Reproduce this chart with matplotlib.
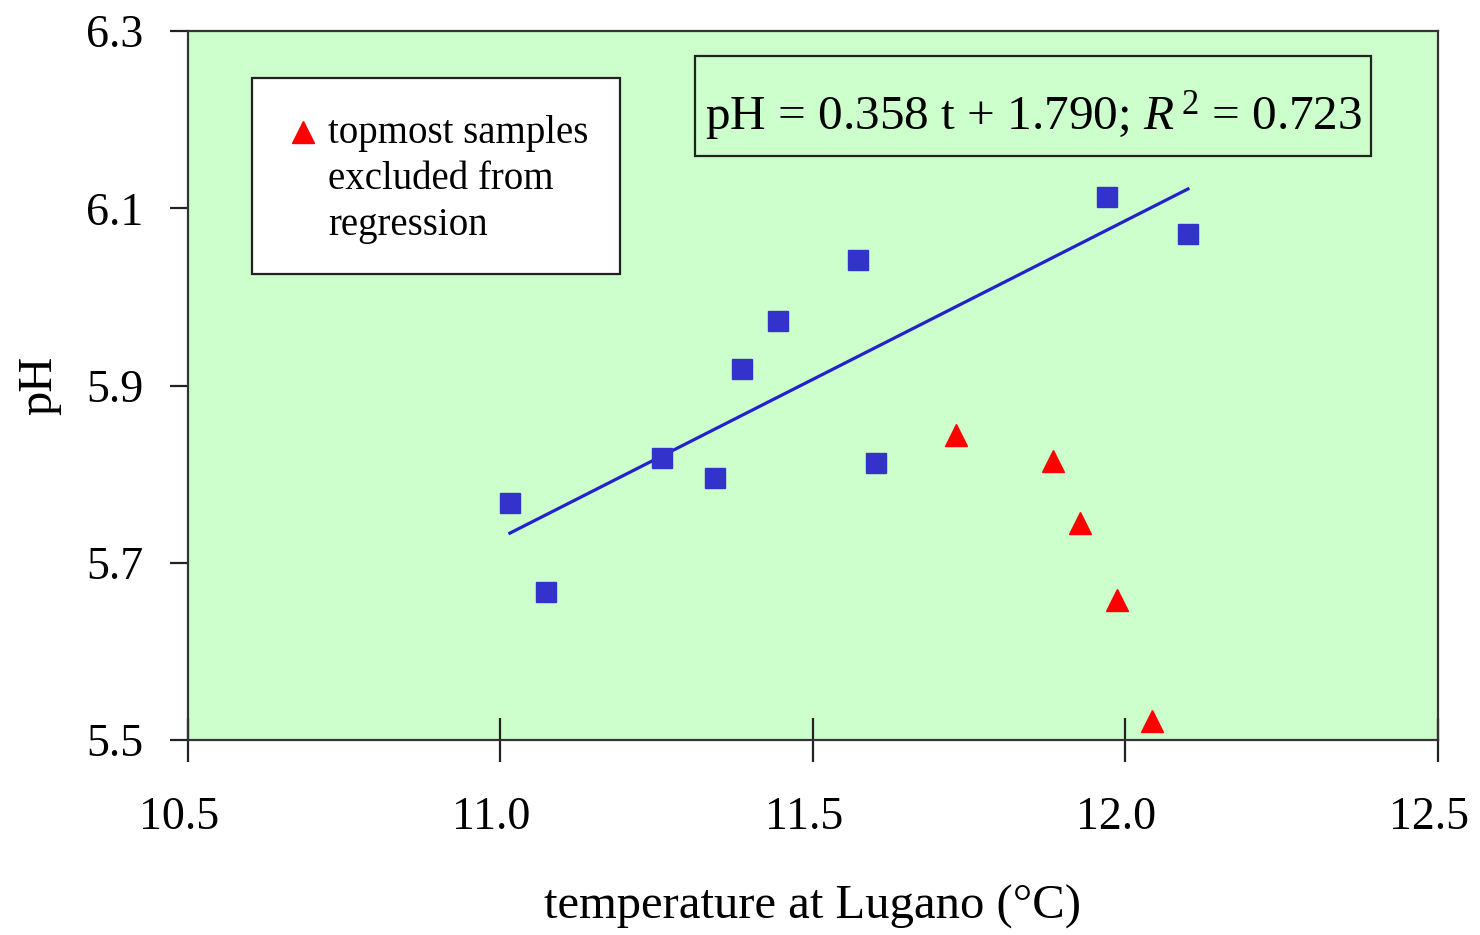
import matplotlib
matplotlib.use("Agg")
import matplotlib.pyplot as plt
from matplotlib.patches import Rectangle
import matplotlib.transforms as mtransforms
import numpy as np

plt.rcParams["font.family"] = ["Liberation Serif", "DejaVu Serif"]
plt.rcParams["mathtext.fontset"] = "custom"
plt.rcParams["mathtext.rm"] = "Liberation Serif"
plt.rcParams["mathtext.it"] = "Liberation Serif:italic"

# samples used in the regression
t_fit = [11.015, 11.073, 11.258, 11.343, 11.386, 11.444, 11.572, 11.601, 11.970, 12.100]
ph_fit = [5.767, 5.667, 5.818, 5.796, 5.919, 5.973, 6.042, 5.813, 6.113, 6.071]

# topmost samples, left out of the regression
t_top = [11.729, 11.884, 11.927, 11.986, 12.042]
ph_top = [5.844, 5.815, 5.745, 5.658, 5.521]

slope = 0.358
intercept = 1.790
r2 = 0.723

x_ticks = [10.5, 11.0, 11.5, 12.0, 12.5]
y_ticks = [5.5, 5.7, 5.9, 6.1, 6.3]

fig = plt.figure(figsize=(14.8, 9.35), dpi=100)
ax = fig.add_axes([0.127, 0.2086, 0.8446, 0.7582])
ax.set_facecolor("#ccffcc")

tt = np.array([min(t_fit), max(t_fit)])
ax.plot(tt, slope * tt + intercept, color="#2222cc", lw=2.3, zorder=2)
ax.plot(t_fit, ph_fit, ls="none", marker="s", ms=15, color="#3333cc", zorder=3)
ax.plot(t_top, ph_top, ls="none", marker="^", ms=16, color="#ff0000", zorder=3)

ax.set_xlim(10.5, 12.5)
ax.set_ylim(5.5, 6.3)
ax.set_xticks(x_ticks)
ax.set_xticklabels([f"{v:.1f}" for v in x_ticks])
ax.set_yticks(y_ticks)
ax.set_yticklabels([f"{v:.1f}" for v in y_ticks])
ax.tick_params(axis="x", direction="inout", length=31, width=1.6, labelsize=33, pad=25, colors="#222222", labelcolor="black")
ax.tick_params(axis="y", direction="out", length=13, width=1.6, labelsize=33, pad=19, colors="#222222", labelcolor="black")
for s in ax.spines.values():
    s.set_color("#333333")
    s.set_linewidth(1.6)

# x tick labels sit a little left of their ticks
shift = mtransforms.ScaledTranslation(-9 / 100, 0, fig.dpi_scale_trans)
for lab in ax.get_xticklabels():
    lab.set_transform(lab.get_transform() + shift)

ax.set_xlabel("temperature at Lugano (°C)", fontsize=35, labelpad=33)
ax.set_ylabel("pH", fontsize=35, labelpad=18)

# equation box
ax.add_patch(Rectangle((0.4056, 0.8237), 0.5408, 0.141, transform=ax.transAxes,
                       facecolor="none", edgecolor="#222222", lw=1.6, zorder=4))
ax.text(0.676, 0.881, f"pH = {slope:.3f} t + {intercept:.3f}; $R^{{\\,2}}$ = {r2:.3f}",
        transform=ax.transAxes, ha="center", va="center", fontsize=35.5, zorder=5)

# key box for the excluded samples
ax.add_patch(Rectangle((0.0512, 0.657), 0.2944, 0.277, transform=ax.transAxes,
                       facecolor="white", edgecolor="#222222", lw=1.6, zorder=4))
ax.plot([0.0924], [0.857], transform=ax.transAxes, ls="none", marker="^", ms=16,
        color="#ff0000", clip_on=False, zorder=5)
ax.text(0.112, 0.882, "topmost samples\nexcluded from\nregression", transform=ax.transAxes,
        ha="left", va="top", fontsize=28, linespacing=1.32, zorder=5)

fig.savefig("out.png", dpi=100)
